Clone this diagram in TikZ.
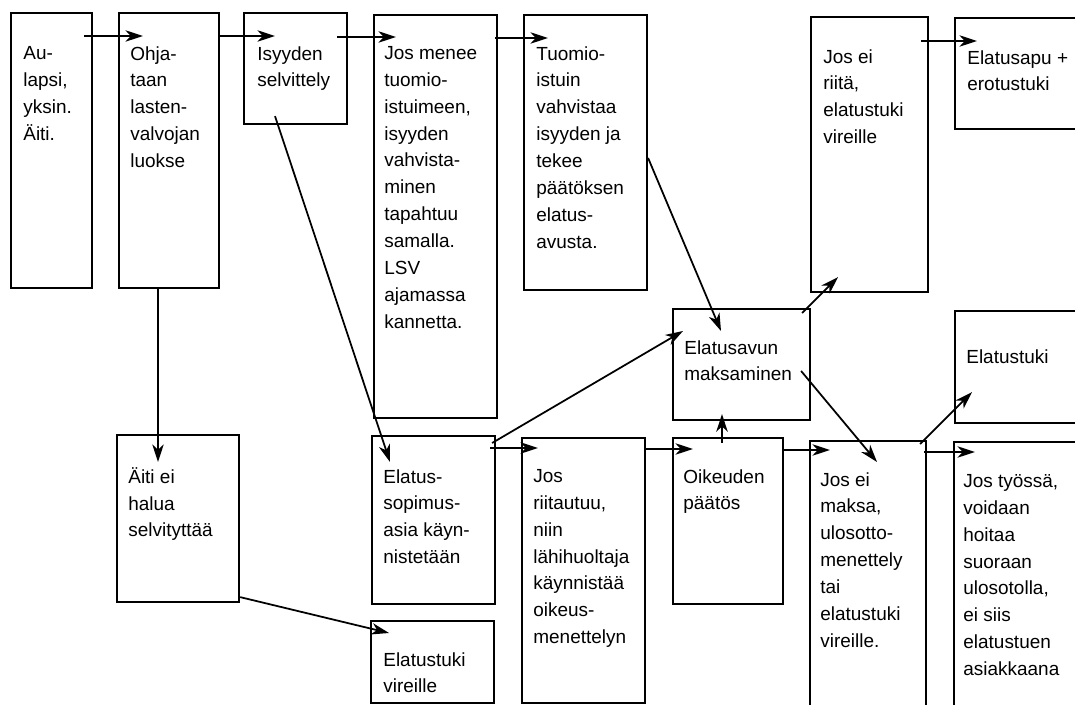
\documentclass[tikz,border=0pt]{standalone}
\usepackage{fontspec}
\setmainfont{Liberation Sans}
\usepackage{tikz}
\usetikzlibrary{positioning,calc,arrows.meta}

\tikzset{
  box/.style 2 args={draw, line width=1.2pt, anchor=north west, inner sep=0pt,
    minimum width=#1*0.02cm, minimum height=#2*0.02cm},
  txt/.style={anchor=north west, align=left, inner sep=0pt, execute at begin node=\strut,
    font=\fontsize{10.8pt}{15.3pt}\selectfont},
  arr/.style={line width=1pt, -{Stealth[length=10pt,width=6.5pt,inset=3pt]}}
}

\begin{document}
\begin{tikzpicture}[x=0.02cm, y=-0.02cm]
    \useasboundingbox (0,0) rectangle (1075,705);
    \clip (0,0) rectangle (1075,705);

    % Boxes
    \node[box={81}{275}]  (a) at (10,12) {};
    \node[box={100}{275}] (b) at (118,12) {};
    \node[box={103}{111}] (c) at (243,12) {};
    \node[box={123}{403}] (d) at (373,14) {};
    \node[box={123}{275}] (e) at (523,14) {};
    \node[box={117}{275}] (f) at (810,16) {};
    \node[box={130}{111}] (g) at (954,17) {};
    \node[box={137}{111}] (h) at (672,308) {};
    \node[box={130}{112}] (i) at (954,310) {};
    \node[box={122}{167}] (j) at (116,434) {};
    \node[box={123}{168}] (k) at (371,435) {};
    \node[box={123}{82}]  (l) at (370,620) {};
    \node[box={123}{265}] (m) at (521,437) {};
    \node[box={110}{166}] (n) at (672,437) {};
    \node[box={116}{275}] (o) at (809,440) {};
    \node[box={130}{275}] (p) at (953,441) {};

    % Texts (first baseline about 51 below the top edge)
    \node[txt] (a-t) at ($(a.north west)+(13,34)$) {Au-\\lapsi,\\yksin.\\Äiti.};
    \node[txt] (b-t) at ($(b.north west)+(12,34)$) {Ohja-\\taan\\lasten-\\valvojan\\luokse};
    \node[txt] (c-t) at ($(c.north west)+(14,34)$) {Isyyden\\selvittely};
    \node[txt] (d-t) at ($(d.north west)+(11,32)$) {Jos menee\\tuomio-\\istuimeen,\\isyyden\\vahvista-\\minen\\tapahtuu\\samalla.\\LSV\\ajamassa\\kannetta.};
    \node[txt] (e-t) at ($(e.north west)+(13,32)$) {Tuomio-\\istuin\\vahvistaa\\isyyden ja\\tekee\\päätöksen\\elatus-\\avusta.};
    \node[txt] (f-t) at ($(f.north west)+(13,33)$) {Jos ei\\riitä,\\elatustuki\\vireille};
    \node[txt] (g-t) at ($(g.north west)+(13,33)$) {Elatusapu +\\erotustuki};
    \node[txt] (h-t) at ($(h.north west)+(12,32)$) {Elatusavun\\maksaminen};
    \node[txt] (i-t) at ($(i.north west)+(12,34)$) {Elatustuki};
    \node[txt] (j-t) at ($(j.north west)+(12,33)$) {Äiti ei\\halua\\selvityttää};
    \node[txt] (k-t) at ($(k.north west)+(12,34)$) {Elatus-\\sopimus-\\asia käyn-\\nistetään};
    \node[txt] (l-t) at ($(l.north west)+(13,32)$) {Elatustuki\\vireille};
    \node[txt] (m-t) at ($(m.north west)+(12,32)$) {Jos\\riitautuu,\\niin\\lähihuoltaja\\käynnistää\\oikeus-\\menettelyn};
    \node[txt] (n-t) at ($(n.north west)+(11,32)$) {Oikeuden\\päätös};
    \node[txt] (o-t) at ($(o.north west)+(11,32)$) {Jos ei\\maksa,\\ulosotto-\\menettely\\tai\\elatustuki\\vireille.};
    \node[txt] (p-t) at ($(p.north west)+(10,33)$) {Jos työssä,\\voidaan\\hoitaa\\suoraan\\ulosotolla,\\ei siis\\elatustuen\\asiakkaana};

    % Top row
    \draw[arr] ($(a.north east)+(-9,24)$) -- ($(b.north west)+(25,24)$);
    \draw[arr] ($(b.north east)+(0,24)$) -- ($(c.north west)+(32,24)$);
    \draw[arr] ($(c.north east)+(-11,25)$) -- ($(d.north west)+(23,23)$);
    \draw[arr] ($(d.north east)+(-3,24)$) -- ($(e.north west)+(25,24)$);
    \draw[arr] ($(f.north east)+(-8,25)$) -- ($(g.north west)+(23,24)$);

    % Down to the lower row
    \draw[arr] ($(c.south west)+(32,-9)$) -- ($(k.north west)+(19,27)$);
    \draw[arr] ($(b.south west)+(40,0)$) -- ($(j.north west)+(42,28)$);
    \draw[arr] ($(j.south east)+(0,-6)$) -- ($(l.north west)+(19,13)$);
    \draw[arr] ($(e.north east)+(0,144)$) -- ($(h.north west)+(49,23)$);

    % Lower row
    \draw[arr] ($(k.north east)+(-4,8)$) -- ($(h.north west)+(11,23)$);
    \draw[arr] ($(k.north east)+(-6,13)$) -- ($(m.north west)+(17,11)$);
    \draw[arr] ($(m.north east)+(0,12)$) -- ($(n.north west)+(21,12)$);
    \draw[arr] ($(n.north west)+(50,6)$) -- ($(h.south west)+(50,-7)$);
    \draw[arr] ($(n.north east)+(0,13)$) -- ($(o.north west)+(21,10)$);
    \draw[arr] ($(h.north east)+(-10,63)$) -- ($(o.north west)+(68,22)$);
    \draw[arr] ($(h.north east)+(-9,5)$) -- ($(f.south west)+(28,-16)$);
    \draw[arr] ($(o.north east)+(-7,4)$) -- ($(i.south west)+(18,-32)$);
    \draw[arr] ($(o.north east)+(-3,12)$) -- ($(p.north west)+(22,11)$);
\end{tikzpicture}
\end{document}
